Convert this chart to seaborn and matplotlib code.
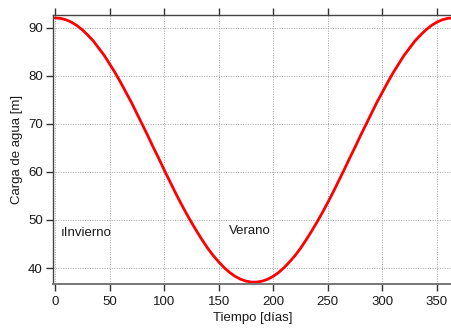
import matplotlib
matplotlib.use("Agg")
import matplotlib.pyplot as plt
import seaborn as sns
import pandas as pd

# Water head over the year, read every 5 days
dias = [0, 5, 10, 15, 20, 25, 30, 35, 40, 45, 50, 55, 60, 65, 70, 75, 80, 85,
        90, 95, 100, 105, 110, 115, 120, 125, 130, 135, 140, 145, 150, 155,
        160, 165, 170, 175, 180, 185, 190, 195, 200, 205, 210, 215, 220, 225,
        230, 235, 240, 245, 250, 255, 260, 265, 270, 275, 280, 285, 290, 295,
        300, 305, 310, 315, 320, 325, 330, 335, 340, 345, 350, 355, 360, 365]
carga = [92.0, 91.9, 91.6, 91.1, 90.4, 89.5, 88.4, 87.2, 85.7, 84.2, 82.4,
         80.6, 78.6, 76.5, 74.4, 72.1, 69.8, 67.5, 65.1, 62.8, 60.4, 58.1,
         55.8, 53.6, 51.5, 49.5, 47.6, 45.8, 44.1, 42.6, 41.3, 40.1, 39.1,
         38.3, 37.7, 37.3, 37.1, 37.1, 37.3, 37.7, 38.3, 39.1, 40.1, 41.3,
         42.6, 44.1, 45.8, 47.6, 49.5, 51.5, 53.6, 55.8, 58.1, 60.4, 62.8,
         65.1, 67.5, 69.8, 72.1, 74.4, 76.5, 78.6, 80.6, 82.4, 84.2, 85.7,
         87.2, 88.4, 89.5, 90.4, 91.1, 91.6, 91.9, 92.0]
x_ticks = [0, 50, 100, 150, 200, 250, 300, 350]
y_ticks = [40, 50, 60, 70, 80, 90]

df = pd.DataFrame({"dia": dias, "carga": carga})

FS = 9.5

sns.set_style("ticks")
plt.rcParams["font.family"] = ["Liberation Sans", "DejaVu Sans"]
plt.rcParams["font.size"] = FS
plt.rcParams["text.color"] = "#1a1a1a"
plt.rcParams["axes.labelcolor"] = "#1a1a1a"
plt.rcParams["xtick.color"] = "#1a1a1a"
plt.rcParams["ytick.color"] = "#1a1a1a"

fig = plt.figure(figsize=(4.52, 3.32), dpi=100)
ax = fig.add_axes([53 / 452, 1 - 284 / 332, 1 - 53 / 452, (284 - 15) / 332])

sns.lineplot(data=df, x="dia", y="carga", color="#ff0000", linewidth=2.0, ax=ax)

ax.set_xlim(-2, 364)
ax.set_ylim(36.7, 92.6)
ax.set_xticks(x_ticks)
ax.set_yticks(y_ticks)
ax.grid(True, linestyle=(0, (1, 1.5)), color="#a0a0a0", linewidth=0.7)
ax.set_axisbelow(True)

for side in ["left", "bottom", "top"]:
    ax.spines[side].set_color("#444444")
    ax.spines[side].set_linewidth(1.0)
ax.spines["right"].set_visible(False)
ax.spines["bottom"].set_color("#777777")
ax.spines["bottom"].set_linewidth(1.4)

ax.tick_params(axis="both", direction="out", length=4.8, width=1.0,
               color="#333333", labelsize=FS)
ax.tick_params(axis="y", pad=2.5)
ax.tick_params(axis="x", top=True, labeltop=False, pad=3.5)

ax.set_xlabel("Tiempo [días]", fontsize=FS, labelpad=3)
ax.set_ylabel("Carga de agua [m]", fontsize=FS, labelpad=4)

ax.text(5, 47.4, "ıInvierno", fontsize=FS, va="center", ha="left")
ax.text(159, 47.8, "Verano", fontsize=FS, va="center", ha="left")

fig.savefig("out.png", dpi=100)
